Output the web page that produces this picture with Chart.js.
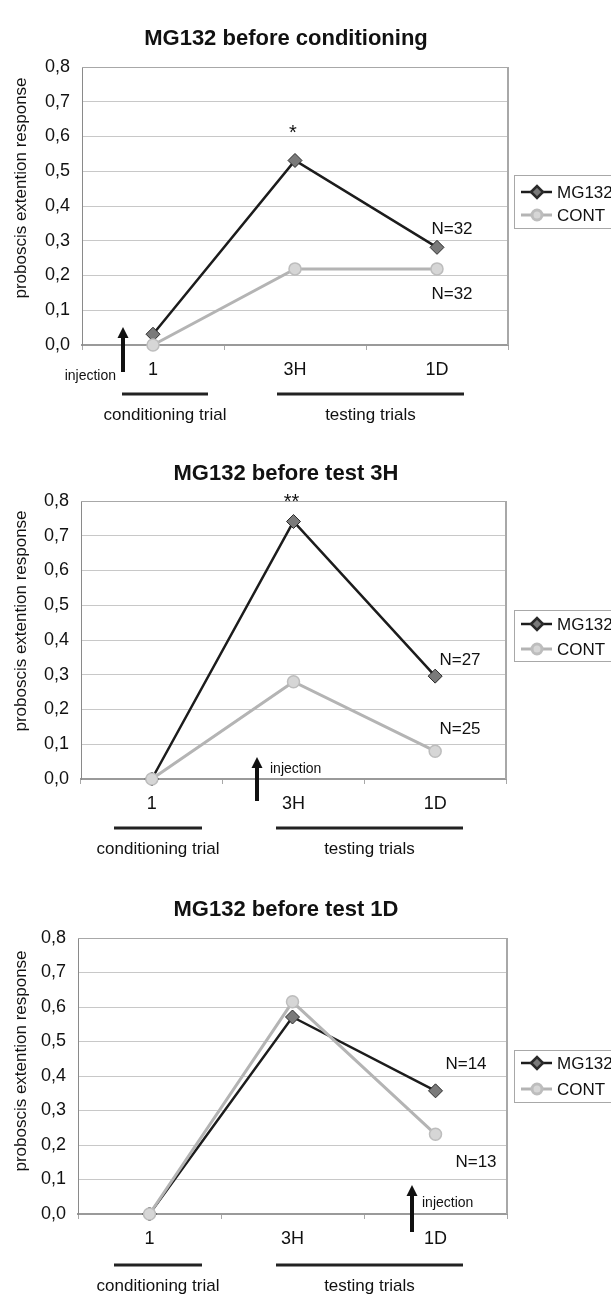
<!DOCTYPE html>
<html>
<head>
<meta charset="utf-8">
<title>MG132 injection and proboscis extension</title>
<script src="https://cdn.jsdelivr.net/npm/chart.js@4.4.1/dist/chart.umd.min.js"></script>
<style>
  html, body { margin: 0; padding: 0; background: #fff; }
  #page { position: relative; width: 611px; height: 1295px; overflow: hidden; }
  .panel { position: absolute; left: 0; width: 611px; }
  .panel canvas { display: block; }
</style>
</head>
<body>
<div id="page">
  <div class="panel" style="top:0px"><canvas id="chartCond" width="611" height="430"></canvas></div>
  <div class="panel" style="top:430px"><canvas id="chart3H" width="611" height="430"></canvas></div>
  <div class="panel" style="top:860px"><canvas id="chart1D" width="611" height="435"></canvas></div>
</div>
<script>
// trials and axis labels
const trials = ['1', '3H', '1D'];
const yTickLabels = ['0,0', '0,1', '0,2', '0,3', '0,4', '0,5', '0,6', '0,7', '0,8'];
const yTitle = 'proboscis extention response';
const seriesNames = ['MG132', 'CONT'];
const groupLabels = ['conditioning trial', 'testing trials'];
const injectionLabel = 'injection';
const titles = ['MG132 before conditioning', 'MG132 before test 3H', 'MG132 before test 1D'];

// response rates per trial
const mg132BeforeCond = [0.031, 0.531, 0.281];
const contBeforeCond  = [0, 0.219, 0.219];
const mg132Before3H   = [0, 0.741, 0.296];
const contBefore3H    = [0, 0.28, 0.08];
const mg132Before1D   = [0, 0.571, 0.357];
const contBefore1D    = [0, 0.615, 0.231];

// sample sizes and significance marks
const nMg132 = ['N=32', 'N=27', 'N=14'];
const nCont  = ['N=32', 'N=25', 'N=13'];
const stars  = ['*', '**', ''];

const FONT = '"Liberation Sans", Arial, Helvetica, sans-serif';
Chart.defaults.font.family = FONT;
Chart.defaults.color = '#111';

// per panel geometry (canvas pixels)
const panels = [
  { id: 'chartCond', h: 430, mg: mg132BeforeCond, cont: contBeforeCond,
    area: { l: 82, r: 508, t: 67, b: 345 }, titleY: 45, yTitleY: 188, starY: 139,
    nUp: { x: 452, y: 234 }, nLow: { x: 452, y: 299 },
    legend: { t: 175, b: 228, rows: [192, 215] },
    arrow: { x: 123, tip: 327, bottom: 372, side: 'left', tx: 116, ty: 380 },
    under: { y: 394, a: [122, 208], b: [277, 464] }, groupY: 420 },
  { id: 'chart3H', h: 430, mg: mg132Before3H, cont: contBefore3H,
    area: { l: 81, r: 506, t: 71, b: 349 }, titleY: 50, yTitleY: 191, starY: 78,
    nUp: { x: 460, y: 235 }, nLow: { x: 460, y: 304 },
    legend: { t: 180, b: 231, rows: [194, 219] },
    arrow: { x: 257, tip: 327, bottom: 371, side: 'right', tx: 270, ty: 343 },
    under: { y: 398, a: [114, 202], b: [276, 463] }, groupY: 424 },
  { id: 'chart1D', h: 435, mg: mg132Before1D, cont: contBefore1D,
    area: { l: 78, r: 507, t: 78, b: 354 }, titleY: 56, yTitleY: 201, starY: 0,
    nUp: { x: 466, y: 209 }, nLow: { x: 476, y: 307 },
    legend: { t: 190, b: 242, rows: [203, 229] },
    arrow: { x: 412, tip: 325, bottom: 372, side: 'right', tx: 422, ty: 347 },
    under: { y: 405, a: [114, 202], b: [276, 463] }, groupY: 431 }
];

// frame, titles, legend and the hand-drawn notes around each plot
const panelDecor = {
  id: 'panelDecor',
  beforeDatasetsDraw(chart, args, o) {
    const { ctx, chartArea: a } = chart;
    ctx.save();
    ctx.strokeStyle = '#a8a8a8';
    ctx.lineWidth = 1;
    ctx.beginPath();
    ctx.moveTo(a.left, a.top + 0.5);
    ctx.lineTo(a.right, a.top + 0.5);
    ctx.stroke();
    ctx.lineWidth = 2;
    ctx.beginPath();
    ctx.moveTo(a.right, a.top);
    ctx.lineTo(a.right, a.bottom);
    ctx.stroke();
    ctx.restore();
  },
  afterDraw(chart, args, o) {
    const { ctx } = chart;
    const p = o.panel;
    const xs = chart.scales.x;
    ctx.save();
    ctx.fillStyle = '#111';

    // title
    ctx.font = 'bold 22px ' + FONT;
    ctx.textAlign = 'center';
    ctx.textBaseline = 'alphabetic';
    ctx.fillText(o.title, 286, p.titleY);

    // y axis title
    ctx.save();
    ctx.translate(21, p.yTitleY);
    ctx.rotate(-Math.PI / 2);
    ctx.font = '17px ' + FONT;
    ctx.textBaseline = 'middle';
    ctx.fillText(yTitle, 0, 0);
    ctx.restore();

    // significance
    if (o.star) {
      ctx.font = '20px ' + FONT;
      ctx.fillText(o.star, xs.getPixelForValue(1) - 2, p.starY);
    }

    // sample sizes
    ctx.font = '17px ' + FONT;
    ctx.fillText(o.nUp, p.nUp.x, p.nUp.y);
    ctx.fillText(o.nLow, p.nLow.x, p.nLow.y);

    // legend
    const lg = p.legend;
    ctx.fillStyle = '#fff';
    ctx.fillRect(514.5, lg.t + 0.5, 100, lg.b - lg.t);
    ctx.strokeStyle = '#a8a8a8';
    ctx.lineWidth = 1;
    ctx.strokeRect(514.5, lg.t + 0.5, 100, lg.b - lg.t);
    chart.data.datasets.forEach((ds, i) => {
      const y = lg.rows[i];
      ctx.strokeStyle = ds.borderColor;
      ctx.lineWidth = ds.borderWidth;
      ctx.beginPath();
      ctx.moveTo(521, y);
      ctx.lineTo(552, y);
      ctx.stroke();
      ctx.fillStyle = ds.pointBackgroundColor;
      ctx.strokeStyle = ds.pointBorderColor;
      Chart.helpers.drawPoint(ctx, {
        pointStyle: ds.pointStyle, radius: ds.pointRadius - 1,
        borderWidth: ds.pointBorderWidth, rotation: 0
      }, 537, y);
      ctx.fillStyle = '#111';
      ctx.font = '17px ' + FONT;
      ctx.textAlign = 'left';
      ctx.fillText(ds.label, 557, y + 6);
    });

    // injection arrow
    const ar = p.arrow;
    ctx.fillStyle = '#111';
    ctx.fillRect(ar.x - 2, ar.tip + 9, 4, ar.bottom - ar.tip - 9);
    ctx.beginPath();
    ctx.moveTo(ar.x, ar.tip);
    ctx.lineTo(ar.x + 5.5, ar.tip + 11);
    ctx.lineTo(ar.x - 5.5, ar.tip + 11);
    ctx.closePath();
    ctx.fill();
    ctx.font = '14px ' + FONT;
    ctx.textAlign = ar.side === 'left' ? 'right' : 'left';
    ctx.fillText(injectionLabel, ar.tx, ar.ty);

    // trial groups
    ctx.strokeStyle = '#222';
    ctx.lineWidth = 3;
    [p.under.a, p.under.b].forEach((seg, i) => {
      ctx.beginPath();
      ctx.moveTo(seg[0], p.under.y);
      ctx.lineTo(seg[1], p.under.y);
      ctx.stroke();
      ctx.font = '17px ' + FONT;
      ctx.textAlign = 'center';
      ctx.fillText(groupLabels[i], (seg[0] + seg[1]) / 2, p.groupY);
    });
    ctx.restore();
  }
};

function makeChart(p, idx) {
  const a = p.area;
  return new Chart(document.getElementById(p.id), {
    type: 'line',
    data: {
      labels: trials,
      datasets: [
        {
          label: seriesNames[0],
          data: p.mg,
          order: 2,
          borderColor: '#1c1c1c',
          borderWidth: 2.5,
          pointStyle: 'rectRot',
          pointRadius: 7,
          pointBackgroundColor: '#7a7a7a',
          pointBorderColor: '#2a2a2a',
          pointBorderWidth: 1,
          tension: 0,
          clip: false
        },
        {
          label: seriesNames[1],
          data: p.cont,
          order: 1,
          borderColor: '#b4b4b4',
          borderWidth: 3,
          pointStyle: 'circle',
          pointRadius: 6,
          pointBackgroundColor: '#d6d6d6',
          pointBorderColor: '#bdbdbd',
          pointBorderWidth: 1.5,
          tension: 0,
          clip: false
        }
      ]
    },
    options: {
      responsive: false,
      animation: false,
      events: [],
      layout: { padding: { left: 0, top: a.t, right: 611 - a.r, bottom: p.h - a.b - 40 } },
      plugins: {
        legend: { display: false },
        tooltip: { enabled: false },
        panelDecor: {
          panel: p, title: titles[idx], star: stars[idx],
          nUp: nMg132[idx], nLow: nCont[idx]
        }
      },
      scales: {
        x: {
          offset: true,
          grid: { offset: true, drawOnChartArea: false, drawTicks: true, tickLength: 5, color: '#a8a8a8' },
          border: { color: '#9a9a9a', width: 2 },
          ticks: { font: { size: 18 }, padding: 9, maxRotation: 0, color: '#111' },
          afterFit: s => { s.height = 40; }
        },
        y: {
          min: 0,
          max: 0.8,
          ticks: {
            stepSize: 0.1,
            font: { size: 18 },
            padding: 12,
            color: '#111',
            callback: (v, i) => yTickLabels[i]
          },
          grid: { color: '#c8c8c8', drawTicks: false },
          border: { color: '#8a8a8a', width: 1 },
          afterFit: s => { s.width = a.l; }
        }
      }
    },
    plugins: [panelDecor]
  });
}

panels.forEach(makeChart);
</script>
</body>
</html>
